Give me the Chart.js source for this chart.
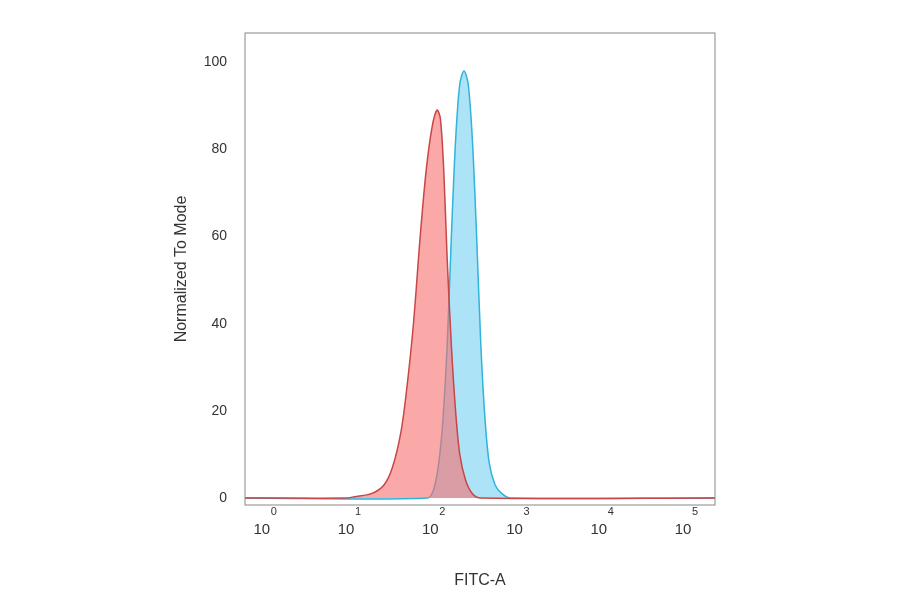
<!DOCTYPE html>
<html><head><script src="https://cdn.jsdelivr.net/npm/chart.js@4"></script>
<style>body{margin:0;background:#fff}#c{width:900px;height:594px}</style></head>
<body><div id="c"><canvas id="cv" width="900" height="594"></canvas></div>
<script>
const redX=[-0.2,1.0,1.1,1.3,1.45,1.55,1.65,1.72,1.8,1.88,1.95,2.02,2.08,2.12,2.16,2.2,2.25,2.3,2.35,2.42,2.5,2.6,5.38];
const redY=[0,0,0.3,1,3,7,15,25,40,60,75,85,89,87,75,55,35,20,10,4,1,0,0];
const blueX=[-0.2,1.97,2.04,2.1,2.15,2.2,2.25,2.3,2.35,2.4,2.45,2.5,2.55,2.6,2.65,2.7,2.77,2.85,2.95,5.38];
const blueY=[0,0,2,8,18,35,60,82,95,98,95,82,60,35,18,8,3,1,0,0];
const xTicks=[0,1,2,3,4,5];
const xExp=["0","1","2","3","4","5"];
const yTicks=[0,20,40,60,80,100];
const pts=(xs,ys)=>xs.map((x,i)=>({x,y:ys[i]}));
const box={id:'box',afterDraw(c){const a=c.chartArea,g=c.ctx;g.save();g.strokeStyle='#888';g.lineWidth=1;g.strokeRect(a.left,a.top,a.right-a.left,a.bottom-a.top);
 g.fillStyle='#333';g.font='11px "Liberation Sans"';g.textAlign='left';g.textBaseline='middle';
 const s=c.scales.x;xTicks.forEach((v,i)=>{g.fillText(xExp[i],s.getPixelForValue(v)+9,512);});g.restore();}};
new Chart(document.getElementById('cv'),{type:'line',
data:{datasets:[
{data:pts(redX,redY),borderColor:'#c84646',backgroundColor:'rgba(248,110,110,0.6)',fill:'origin',borderWidth:1.5,pointRadius:0,tension:0.3},
{data:pts(blueX,blueY),borderColor:'#2fb4dc',backgroundColor:'rgba(90,200,240,0.5)',fill:'origin',borderWidth:1.5,pointRadius:0,tension:0.3}]},
options:{responsive:false,animation:false,plugins:{legend:{display:false},tooltip:{enabled:false}},
layout:{padding:{left:168,right:185,top:33,bottom:0}},
scales:{
x:{type:'linear',min:-0.2,max:5.38,grid:{display:false},border:{display:false},
 afterBuildTicks(s){s.ticks=xTicks.map(v=>({value:v}));},afterFit(s){s.height=89;},
 ticks:{color:'#333',font:{family:'Liberation Sans',size:15},padding:8,maxRotation:0,callback:()=>'10'},
 title:{display:true,text:'FITC-A',color:'#333',font:{family:'Liberation Sans',size:16},padding:{top:20}}},
y:{min:-1.6,max:106.7,grid:{display:false},border:{display:false},
 afterBuildTicks(s){s.ticks=yTicks.map(v=>({value:v}));},afterFit(s){s.width=77;},
 ticks:{color:'#333',font:{family:'Liberation Sans',size:14},padding:10},
 title:{display:true,text:'Normalized To Mode',color:'#333',font:{family:'Liberation Sans',size:16},padding:{bottom:10}}}}},
plugins:[box]});
</script></body></html>
